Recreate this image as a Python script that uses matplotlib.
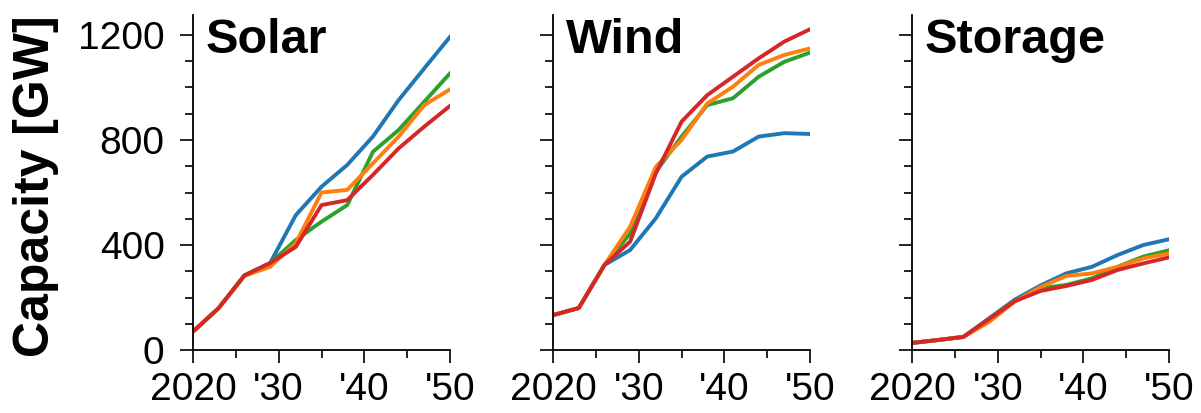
import matplotlib
matplotlib.use("Agg")
import matplotlib.pyplot as plt

plt.rcParams['font.family'] = ['Liberation Sans', 'DejaVu Sans']

# 연도 (3년 간격)
years = [2020, 2023, 2026, 2029, 2032, 2035, 2038, 2041, 2044, 2047, 2050]

# Solar
solar_blue = [70, 160, 284, 331, 514, 622, 705, 813, 952, 1073, 1193]
solar_orange = [70, 160, 282, 317, 407, 600, 610, 711, 813, 933, 993]
solar_green = [70, 160, 284, 331, 419, 489, 552, 755, 838, 946, 1054]
solar_red = [70, 160, 284, 331, 393, 552, 571, 667, 768, 851, 930]

# Wind
wind_blue = [133, 160, 324, 381, 502, 660, 737, 756, 813, 826, 823]
wind_orange = [133, 160, 324, 470, 698, 800, 939, 1003, 1086, 1124, 1149]
wind_green = [133, 160, 324, 444, 679, 813, 933, 959, 1041, 1098, 1133]
wind_red = [133, 160, 324, 413, 673, 870, 971, 1041, 1111, 1175, 1222]

# Storage
storage_blue = [27, 38, 50, 121, 192, 246, 292, 317, 362, 400, 422]
storage_orange = [27, 38, 50, 107, 185, 240, 282, 292, 317, 349, 368]
storage_green = [27, 38, 50, 118, 188, 235, 248, 273, 317, 356, 380]
storage_red = [27, 38, 50, 118, 186, 225, 244, 267, 305, 330, 353]

titles = ["Solar", "Wind", "Storage"]
xtick_labels = ["2020", "'30", "'40", "'50"]

colors = {"blue": "#1f77b4", "orange": "#ff7f0e", "green": "#2ca02c", "red": "#d62728"}

panels = [
    (solar_blue, solar_green, solar_orange, solar_red),
    (wind_blue, wind_green, wind_orange, wind_red),
    (storage_blue, storage_green, storage_orange, storage_red),
]

fig = plt.figure(figsize=(12.01, 4.13), dpi=100)

lefts = [0.1607, 0.4605, 0.7594]
for i in range(3):
    ax = fig.add_axes([lefts[i], 0.1525, 0.214, 0.8111])
    b, g, o, r = panels[i]
    ax.plot(years, b, color=colors["blue"], lw=2.8)
    ax.plot(years, g, color=colors["green"], lw=2.8)
    ax.plot(years, o, color=colors["orange"], lw=2.8)
    ax.plot(years, r, color=colors["red"], lw=2.8)

    ax.set_xlim(2020, 2050)
    ax.set_ylim(0, 1276)
    ax.set_xticks([2020, 2030, 2040, 2050])
    ax.set_xticklabels(xtick_labels)
    ax.set_xticks([2025, 2035, 2045], minor=True)
    ax.set_yticks([0, 400, 800, 1200])
    ax.set_yticks([100, 200, 300, 500, 600, 700, 900, 1000, 1100], minor=True)
    if i == 0:
        ax.set_yticklabels(["0", "400", "800", "1200"])
    else:
        ax.set_yticklabels([])

    for s in ["top", "right"]:
        ax.spines[s].set_visible(False)
    for s in ["left", "bottom"]:
        ax.spines[s].set_linewidth(1.3)
    ax.tick_params(which="major", length=9.5, width=1.2, labelsize=28, direction="out")
    ax.tick_params(which="minor", length=5.5, width=1.2, direction="out")
    ax.tick_params(axis="y", pad=11)
    ax.tick_params(axis="x", pad=6)

    ax.text(0.05, 0.887, titles[i], transform=ax.transAxes, fontsize=35,
            fontweight="bold", va="baseline", ha="left")

fig.text(0.03, 0.55, "Capacity [GW]", rotation=90, fontsize=36,
         fontweight="bold", ha="center", va="center")

plt.savefig("out.png", dpi=100)
